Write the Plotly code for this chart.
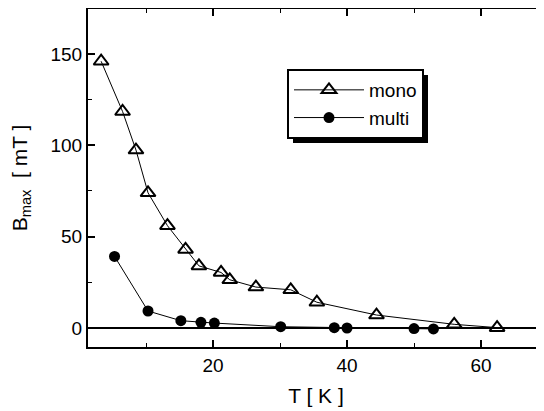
import plotly.graph_objects as go

mono_T = [3.3, 6.5, 8.5, 10.3, 13.2, 15.9, 17.9, 21.2, 22.5, 26.4, 31.6, 35.5, 44.4, 56.0, 62.4]
mono_B = [146, 118.5, 97.4, 74, 56, 43, 34, 30.4, 26.4, 22.4, 20.9, 14.1, 7.1, 2.0, 0.2]
multi_T = [5.3, 10.3, 15.2, 18.2, 20.2, 30.1, 38.1, 40.0, 50.0, 52.9]
multi_B = [39.2, 9.3, 4.0, 3.1, 2.7, 0.7, 0.2, 0.0, -0.3, -0.5]

x_ticks = [20, 40, 60]
y_ticks = [0, 50, 100, 150]

FAM = "Liberation Sans, Arial, sans-serif"
font = dict(family=FAM, size=19, color="black")
title_font = dict(family=FAM, size=21, color="black")

# page has an 8px body margin; plot area in window: x 88..544, y 9..347
OFF = 8
PL, PT, PR, PB = 88, 9, 544, 347
PW, PH = PR - PL, PB - PT
W = 544 - OFF
H = 411 - OFF
R = OFF + W - PR

def px(x):
    return (x - PL) / PW

def py(y):
    return (PB - y) / PH

fig = go.Figure()
fig.add_trace(go.Scatter(x=mono_T, y=mono_B, name="mono", mode="lines+markers",
                         line=dict(color="black", width=1),
                         marker=dict(symbol="triangle-up-open", size=13, color="black",
                                     line=dict(width=2, color="black"))))
fig.add_trace(go.Scatter(x=multi_T, y=multi_B, name="multi", mode="lines+markers",
                         line=dict(color="black", width=1),
                         marker=dict(symbol="circle", size=11, color="black")))

axis_common = dict(showgrid=False, showline=True, linecolor="black", linewidth=2,
                   mirror="allticks", ticks="inside", ticklen=7, tickwidth=1.5,
                   tickcolor="black", tickfont=font, automargin=False)

fig.update_xaxes(range=[1.34, 69.4], tickvals=x_ticks, zeroline=False,
                 minor=dict(dtick=10, tick0=0, ticks="inside", ticklen=4, tickcolor="black", tickwidth=1),
                 title=dict(text="T [ K ]", font=title_font, standoff=14),
                 **axis_common)
fig.update_yaxes(range=[-10.4, 174.6], tickvals=y_ticks,
                 zeroline=True, zerolinecolor="black", zerolinewidth=1.5,
                 minor=dict(dtick=25, tick0=0, ticks="inside", ticklen=4, tickcolor="black", tickwidth=1),
                 title=dict(text="B<sub>max</sub>  [ mT ]", font=title_font, standoff=21),
                 **axis_common)

# legend shadow
fig.add_shape(type="rect", xref="paper", yref="paper",
              x0=px(293), x1=px(428), y0=py(143), y1=py(75),
              fillcolor="black", line=dict(width=0), layer="above")

fig.update_layout(
    width=W, height=H,
    margin=dict(l=PL - OFF, r=R, t=PT - OFF, b=H - (PB - OFF)),
    paper_bgcolor="white", plot_bgcolor="white",
    showlegend=True,
    legend=dict(x=px(287), y=py(69), xanchor="left", yanchor="top",
                bgcolor="white", bordercolor="black", borderwidth=2,
                font=dict(family=FAM, size=19, color="black"),
                tracegroupgap=0, itemwidth=70),
)

fig.write_html("out.html")
